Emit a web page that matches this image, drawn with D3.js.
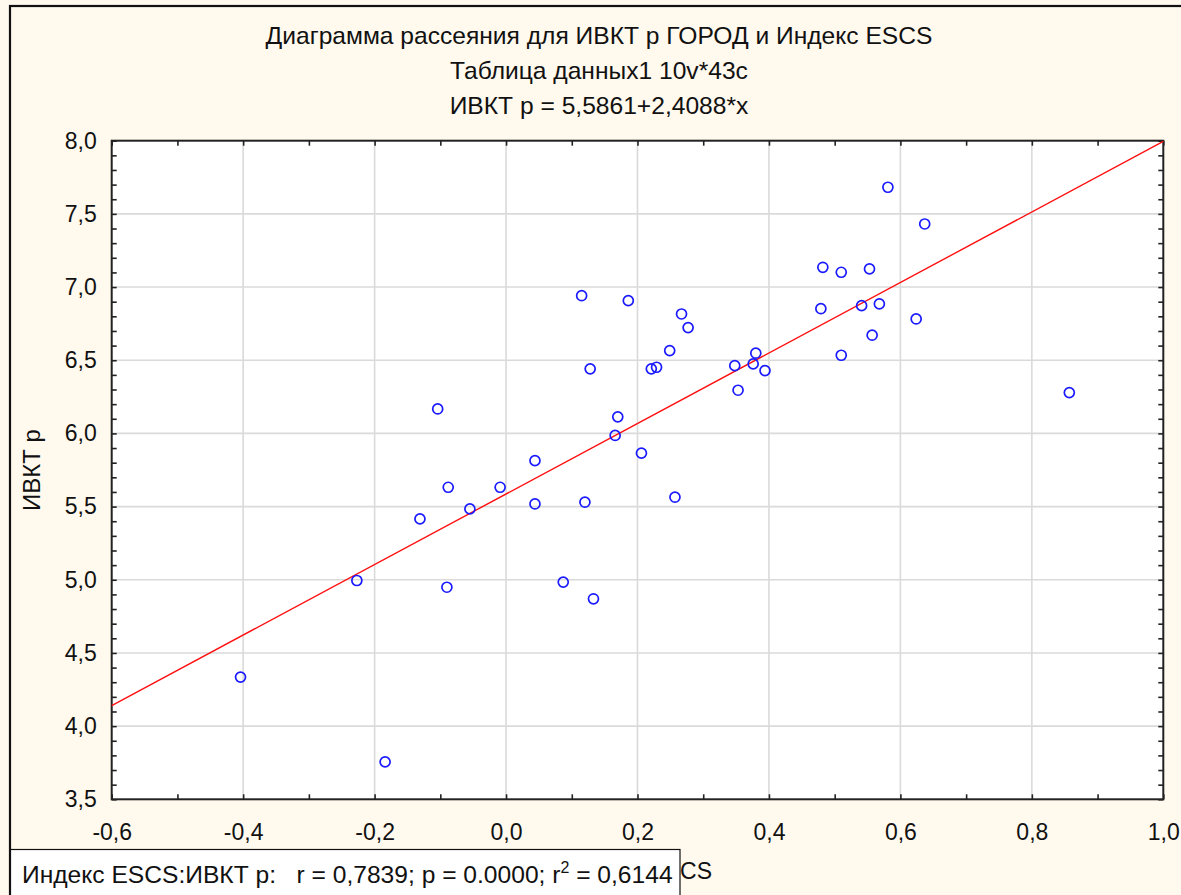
<!DOCTYPE html>
<html><head><meta charset="utf-8">
<script src="https://cdn.jsdelivr.net/npm/d3@7/dist/d3.min.js"></script>
<style>
body{margin:0;background:#fff9ee;overflow:hidden;}
text{font-family:"Liberation Sans",Arial,sans-serif;fill:#111;}
</style>
</head><body>
<svg id="c" width="1181" height="895"></svg>
<script>
// ---- data ----
const titleLines = [
  "Диаграмма рассеяния для ИВКТ р ГОРОД и Индекс ESCS",
  "Таблица данных1 10v*43c",
  "ИВКТ р = 5,5861+2,4088*x"
];
const xAxisTitle = "Индекс ESCS";
const yAxisTitle = "ИВКТ р";
const statsPrefix = "Индекс ESCS:ИВКТ р:   r = 0,7839; p = 0.0000; r";
const statsSup = "2";
const statsSuffix = " = 0,6144";
const regIntercept = 5.5861;
const regSlope = 2.4088;
const xTickValues = [-0.6, -0.4, -0.2, 0.0, 0.2, 0.4, 0.6, 0.8, 1.0];
const yTickValues = [3.5, 4.0, 4.5, 5.0, 5.5, 6.0, 6.5, 7.0, 7.5, 8.0];
const escsValues = [
  -0.404, -0.227, -0.184, -0.131, -0.104, -0.088, -0.090, -0.055, -0.009, 0.044,
   0.044,  0.087,  0.115,  0.120,  0.128,  0.133,  0.166,  0.170,  0.186, 0.206,
   0.221,  0.229,  0.249,  0.257,  0.267,  0.277,  0.348,  0.353,  0.376, 0.380,
   0.394,  0.479,  0.482,  0.510,  0.510,  0.541,  0.553,  0.557,  0.568, 0.581,
   0.624,  0.637,  0.857
];
const ivktValues = [
  4.335, 4.995, 3.756, 5.416, 6.167, 5.632, 4.949, 5.484, 5.632, 5.814,
  5.518, 4.984, 6.941, 5.530, 6.441, 4.870, 5.986, 6.113, 6.907, 5.865,
  6.441, 6.452, 6.566, 5.564, 6.816, 6.723, 6.463, 6.295, 6.475, 6.548,
  6.429, 6.852, 7.135, 7.101, 6.534, 6.873, 7.124, 6.671, 6.885, 7.682,
  6.782, 7.431, 6.279
];

// ---- chart ----
const svg = d3.select("#c");
const L = 111.7, R = 1163.3, T = 140.7, B = 799.3;
const x = d3.scaleLinear().domain([-0.6, 1.0]).range([L, R]);
const y = d3.scaleLinear().domain([3.5, 8.0]).range([B, T]);
const fmt = v => d3.format(".1f")(v).replace("−", "-").replace(".", ",");

// outer frame (top + left visible)
svg.append("rect").attr("x", 10).attr("y", 6).attr("width", 1200).attr("height", 1000)
  .attr("fill", "#fff9ee").attr("stroke", "#111").attr("stroke-width", 2.2);

// titles
svg.selectAll(".title").data(titleLines).join("text")
  .attr("x", 599).attr("y", (d, i) => 44 + i * 35)
  .attr("text-anchor", "middle").attr("font-size", 24.6).text(d => d);

// plot background
svg.append("rect").attr("x", L).attr("y", T).attr("width", R - L).attr("height", B - T).attr("fill", "#fff");

// grid
svg.append("g").selectAll("line").data(xTickValues.slice(1, -1)).join("line")
  .attr("x1", d => x(d)).attr("x2", d => x(d)).attr("y1", T).attr("y2", B)
  .attr("stroke", "#dadada").attr("stroke-width", 1.6);
svg.append("g").selectAll("line").data(yTickValues.slice(1, -1)).join("line")
  .attr("y1", d => y(d)).attr("y2", d => y(d)).attr("x1", L).attr("x2", R)
  .attr("stroke", "#dadada").attr("stroke-width", 1.6);

// axes with inward minor ticks on all sides
const xMinor = d3.range(-0.6, 1.0001, 0.1);
const yMinor = d3.range(3.5, 8.0001, 0.1);
function styleAxis(g) {
  g.select(".domain").remove();
  g.selectAll(".tick line").attr("stroke", "#222").attr("stroke-width", 1.6);
  g.selectAll("text").remove();
}
svg.append("g").attr("transform", `translate(0,${B})`)
  .call(d3.axisBottom(x).tickValues(xMinor).tickSize(-5).tickSizeOuter(0)).call(styleAxis);
svg.append("g").attr("transform", `translate(0,${T})`)
  .call(d3.axisTop(x).tickValues(xMinor).tickSize(-5).tickSizeOuter(0)).call(styleAxis);
svg.append("g").attr("transform", `translate(${L},0)`)
  .call(d3.axisLeft(y).tickValues(yMinor).tickSize(-5).tickSizeOuter(0)).call(styleAxis);
svg.append("g").attr("transform", `translate(${R},0)`)
  .call(d3.axisRight(y).tickValues(yMinor).tickSize(-5).tickSizeOuter(0)).call(styleAxis);

// tick labels via axes
const xLab = svg.append("g").attr("transform", `translate(0,${B})`)
  .call(d3.axisBottom(x).tickValues(xTickValues).tickFormat(fmt).tickSize(0).tickPadding(24));
xLab.select(".domain").remove();
xLab.selectAll("text").attr("font-size", 23).attr("font-family", "Liberation Sans, Arial, sans-serif").attr("fill", "#111");
const yLab = svg.append("g").attr("transform", `translate(${L},0)`)
  .call(d3.axisLeft(y).tickValues(yTickValues).tickFormat(fmt).tickSize(0).tickPadding(15));
yLab.select(".domain").remove();
yLab.selectAll("text").attr("font-size", 23).attr("font-family", "Liberation Sans, Arial, sans-serif").attr("fill", "#111");

// plot frame
svg.append("rect").attr("x", L).attr("y", T).attr("width", R - L).attr("height", B - T)
  .attr("fill", "none").attr("stroke", "#222").attr("stroke-width", 2);

// regression line
const x0 = x.domain()[0], x1 = x.domain()[1];
svg.append("line")
  .attr("x1", x(x0)).attr("y1", y(regIntercept + regSlope * x0))
  .attr("x2", x(x1)).attr("y2", y(regIntercept + regSlope * x1))
  .attr("stroke", "#ff1010").attr("stroke-width", 1.4);

// points
svg.append("g").selectAll("circle").data(escsValues.map((v, i) => [v, ivktValues[i]])).join("circle")
  .attr("cx", d => x(d[0])).attr("cy", d => y(d[1])).attr("r", 5)
  .attr("fill", "none").attr("stroke", "#1a1aff").attr("stroke-width", 1.7);

// axis titles (x title partly hidden behind stats box, as in the original)
svg.append("text").attr("x", 712).attr("y", 879).attr("text-anchor", "end")
  .attr("font-size", 23).text(xAxisTitle);
svg.append("text").attr("transform", `translate(40,${(T + B) / 2}) rotate(-90)`)
  .attr("text-anchor", "middle").attr("font-size", 24).text(yAxisTitle);

// stats box
svg.append("rect").attr("x", 10.5).attr("y", 849.5).attr("width", 669.5).attr("height", 60)
  .attr("fill", "#fff").attr("stroke", "#111").attr("stroke-width", 1.2);
const st = svg.append("text").attr("x", 22).attr("y", 883).attr("font-size", 24.6).attr("xml:space", "preserve");
st.append("tspan").text(statsPrefix);
st.append("tspan").attr("dy", -10).attr("font-size", 16).text(statsSup);
st.append("tspan").attr("dy", 10).text(statsSuffix);
</script>
</body></html>
